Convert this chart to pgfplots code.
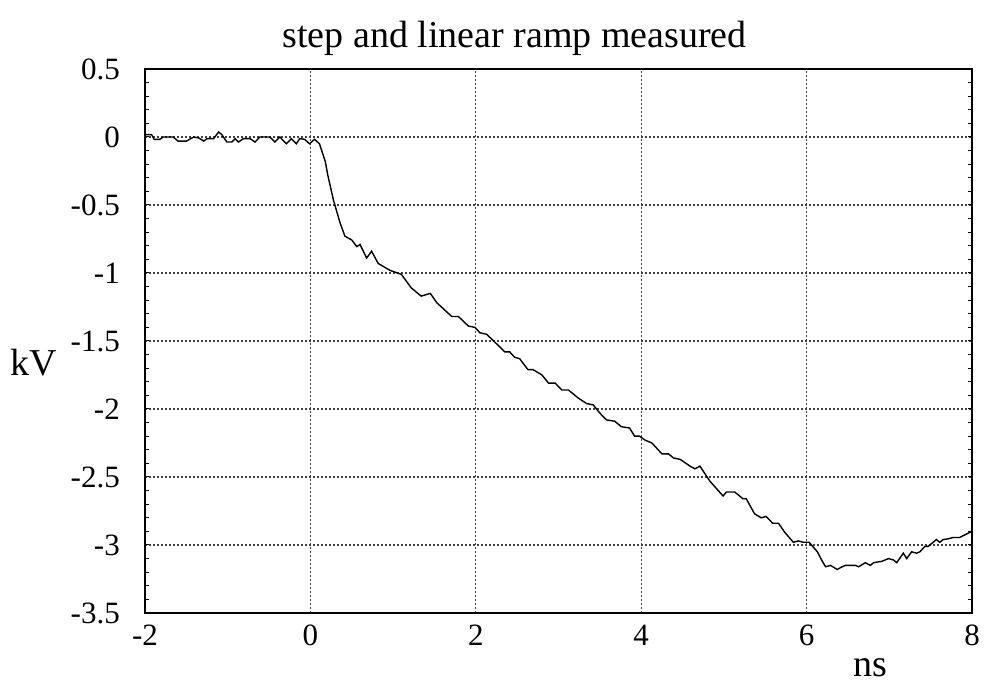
\documentclass[border=0pt]{standalone}
\usepackage{fontspec}
\setmainfont{Liberation Serif}
\usepackage{pgfplots}
\pgfplotsset{compat=1.18}

\begin{document}
\begin{tikzpicture}
\useasboundingbox (-145pt,-71pt) rectangle (839pt,613pt);
\begin{axis}[
  scale only axis,
  width=827pt, height=544pt,
  xmin=-2, xmax=8, ymin=-3.5, ymax=0.5,
  xtick={-2,0,...,8},
  ytick={-3.5,-3,...,0.5},
  minor y tick num=4,
  tick pos=both,
  tick align=inside,
  xtick style={draw=none},
  major tick length=4pt,
  minor tick length=4pt,
  every tick/.style={black, line width=1pt},
  axis line style={black, line width=1.8pt},
  grid=major,
  major grid style={black!75, line width=1.1pt, dash pattern=on 2pt off 2pt},
  /pgf/number format/assume math mode=true,
  tick label style={font=\fontsize{31}{31}\selectfont, inner sep=0pt},
  yticklabel style={anchor=east, xshift=-25pt},
  xticklabel style={anchor=north, yshift=-12pt},
  clip=false
]
\addplot[black, line width=1.4pt] coordinates {
(-2.00,0.017)(-1.92,0.017)(-1.89,-0.017)(-1.82,-0.017)(-1.78,0)(-1.66,0)
(-1.60,-0.03)(-1.50,-0.03)(-1.41,0)(-1.35,-0.007)(-1.29,-0.03)(-1.25,-0.012)
(-1.17,-0.012)(-1.11,0.037)(-1.07,0.017)(-1.01,-0.037)(-0.95,-0.037)(-0.91,-0.012)
(-0.87,-0.037)(-0.81,-0.012)(-0.73,-0.012)(-0.67,-0.037)(-0.61,0)(-0.49,0)
(-0.43,-0.037)(-0.37,0)(-0.29,-0.05)(-0.23,-0.012)(-0.17,-0.05)(-0.13,-0.012)
(-0.07,-0.017)(-0.01,-0.05)(0.05,-0.017)(0.11,-0.05)
(0.18,-0.18)(0.21,-0.28)(0.277,-0.46)(0.358,-0.63)(0.418,-0.73)(0.5,-0.757)
(0.56,-0.806)(0.6,-0.79)(0.68,-0.89)(0.74,-0.84)(0.82,-0.93)(0.96,-0.98)
(1.1,-1.01)(1.22,-1.11)(1.34,-1.17)(1.45,-1.15)(1.53,-1.22)(1.71,-1.32)
(1.79,-1.32)(1.91,-1.39)(1.99,-1.40)(2.05,-1.44)(2.13,-1.45)(2.25,-1.52)
(2.35,-1.58)(2.41,-1.58)(2.47,-1.62)(2.53,-1.63)(2.63,-1.71)(2.69,-1.71)
(2.80,-1.75)(2.88,-1.81)(2.96,-1.81)(3.04,-1.86)(3.12,-1.86)(3.24,-1.92)
(3.34,-1.96)(3.42,-1.97)(3.50,-2.03)(3.58,-2.08)(3.68,-2.09)(3.76,-2.13)
(3.86,-2.14)(3.92,-2.20)(3.98,-2.20)(4.05,-2.23)(4.13,-2.25)(4.25,-2.33)
(4.33,-2.33)(4.39,-2.36)(4.47,-2.37)(4.59,-2.42)(4.65,-2.44)(4.71,-2.42)
(4.83,-2.53)(4.99,-2.64)(5.03,-2.61)(5.13,-2.61)(5.23,-2.66)(5.27,-2.66)
(5.37,-2.77)(5.45,-2.80)(5.51,-2.79)(5.59,-2.84)(5.66,-2.84)(5.74,-2.91)
(5.84,-2.98)(5.90,-2.97)(5.96,-2.98)(6.03,-2.98)(6.13,-3.05)(6.19,-3.12)
(6.23,-3.16)(6.29,-3.15)(6.37,-3.18)(6.43,-3.16)(6.47,-3.15)(6.59,-3.15)
(6.63,-3.16)(6.71,-3.13)(6.77,-3.15)(6.81,-3.13)(6.91,-3.12)(6.99,-3.10)
(7.05,-3.11)(7.09,-3.13)(7.17,-3.06)(7.21,-3.10)(7.27,-3.05)(7.33,-3.06)
(7.37,-3.05)(7.43,-3.01)(7.47,-3.01)(7.57,-2.96)(7.61,-2.98)(7.65,-2.96)
(7.71,-2.955)(7.77,-2.945)(7.85,-2.945)(7.93,-2.92)(8.0,-2.90)
};
\node[anchor=base, font=\fontsize{38}{38}\selectfont, inner sep=0pt]
  at (axis description cs:0.447,1.0386) {step and linear ramp measured};
\node[font=\fontsize{38}{38}\selectfont, inner sep=0pt]
  at (axis description cs:-0.135,0.461) {kV};
\node[font=\fontsize{38}{38}\selectfont, inner sep=0pt]
  at (axis description cs:0.877,-0.101) {ns};
\end{axis}
\end{tikzpicture}
\end{document}
